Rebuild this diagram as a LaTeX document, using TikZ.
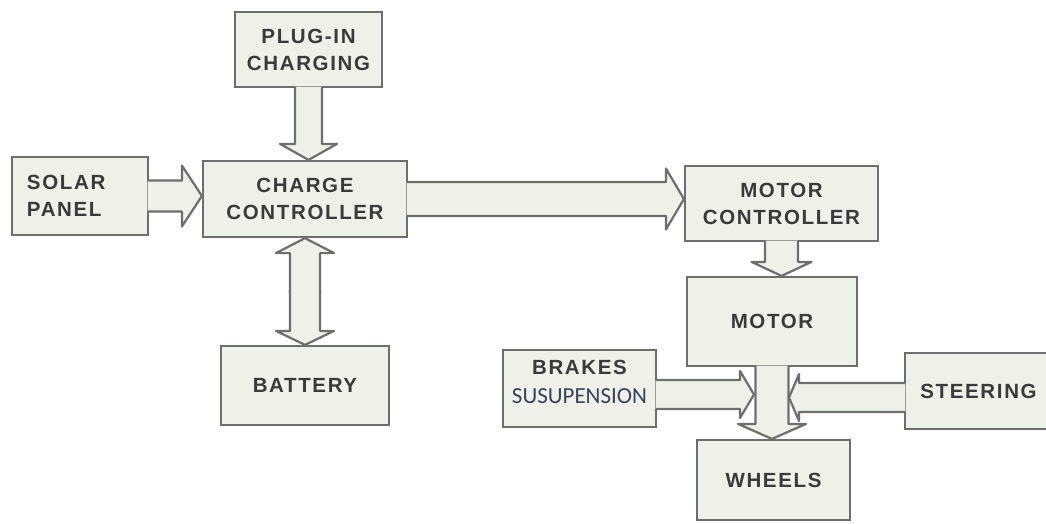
\documentclass[tikz,border=0pt]{standalone}
\usepackage{fontspec}
\setmainfont{Liberation Sans}
\newfontfamily\boxfont[LetterSpace=8]{Liberation Sans}
\newfontfamily\susfont{Carlito}
\usetikzlibrary{calc}

\definecolor{boxfill}{HTML}{EDF1E7}
\definecolor{boxline}{HTML}{6E6E6E}
\definecolor{boxtext}{HTML}{3A3A3A}
\definecolor{sustext}{HTML}{3A3F62}

\tikzset{
  blk/.style={draw=boxline, fill=boxfill, line width=2.2pt, inner sep=0pt,
    align=center, text=boxtext, font=\boxfont\bfseries\fontsize{20.5}{27}\selectfont},
  arrowline/.style={draw=boxline, line width=2.2pt, line join=round},
}

% block arrow: from, to, half shaft, half head, head length (all in pt)
\newcommand\blockarrow[5]{%
  \coordinate (ba-t) at (#2);
  \coordinate (ba-s) at ($(#1)!-1.5pt!(ba-t)$);
  \coordinate (ba-h) at ($(ba-t)!#5pt!(ba-s)$);
  \fill[boxfill] ($(ba-s)!#3pt!90:(ba-t)$) -- ($(ba-h)!#3pt!90:(ba-t)$)
    -- ($(ba-h)!#4pt!90:(ba-t)$) -- (ba-t) -- ($(ba-h)!#4pt!-90:(ba-t)$)
    -- ($(ba-h)!#3pt!-90:(ba-t)$) -- ($(ba-s)!#3pt!-90:(ba-t)$) -- cycle;
  \draw[arrowline] ($(ba-s)!#3pt!90:(ba-t)$) -- ($(ba-h)!#3pt!90:(ba-t)$)
    -- ($(ba-h)!#4pt!90:(ba-t)$) -- (ba-t) -- ($(ba-h)!#4pt!-90:(ba-t)$)
    -- ($(ba-h)!#3pt!-90:(ba-t)$) -- ($(ba-s)!#3pt!-90:(ba-t)$);
}

\begin{document}
\begin{tikzpicture}[x=1pt, y=-1pt]
  \useasboundingbox (0,0) rectangle (1046,523);

  \node[blk, minimum width=147pt, minimum height=75pt] (plug) at (308.5,49.5) {PLUG-IN\\CHARGING};
  \node[blk, minimum width=136pt, minimum height=78pt, text width=106pt, align=left] (solar) at (80,196) {SOLAR\\PANEL};
  \node[blk, minimum width=204pt, minimum height=76pt] (charge) at (305,199) {CHARGE\\CONTROLLER};
  \node[blk, minimum width=168pt, minimum height=79pt] (battery) at (305,385.5) {BATTERY};
  \node[blk, minimum width=193pt, minimum height=75pt] (motorctl) at (781.5,203.5) {MOTOR\\CONTROLLER};
  \node[blk, minimum width=170pt, minimum height=89pt] (motor) at (772,321.5) {MOTOR};
  \node[blk, minimum width=153pt, minimum height=80pt] (wheels) at (773.5,480) {WHEELS};
  \node[blk, minimum width=153pt, minimum height=77pt] (brakes) at (579.5,388.5) {};
  \node[blk, draw=none, fill=none] (brakestxt) at ($(brakes.center)+(0,-7)$)
    {BRAKES\\[2pt]{\susfont\mdseries\color{sustext}\fontsize{23}{27}\selectfont SUSUPENSION}};
  \node[blk, minimum width=147pt, minimum height=76pt] (steering) at (978.5,391) {STEERING};

  \coordinate (cb) at ($(charge.south)!.5!(battery.north)$);
  \coordinate (bk) at ($(brakes.east)+(0,6)$);
  \coordinate (st) at ($(steering.west)+(0,6.5)$);
  \coordinate (jl) at ($(motor.south |- bk)+(-18,0)$);
  \coordinate (jr) at ($(motor.south |- st)+(17,0)$);

  \foreach \from/\to/\sh/\hd/\hl in {
    plug.south/{plug.south |- charge.north}/13.5/28.5/16,
    solar.east/{charge.west |- solar.east}/15.5/30.5/20,
    charge.east/{motorctl.west |- charge.east}/17/30.5/18,
    cb/charge.south/15/29/15,
    cb/battery.north/15/29/14,
    motorctl.south/{motorctl.south |- motor.north}/16.5/30/14,
    motor.south/{motor.south |- wheels.north}/16.5/34/15,
    bk/jl/14.5/23.5/14,
    st/jr/14.5/23.5/10} {
    \blockarrow{\from}{\to}{\sh}{\hd}{\hl}
  }
\end{tikzpicture}
\end{document}
